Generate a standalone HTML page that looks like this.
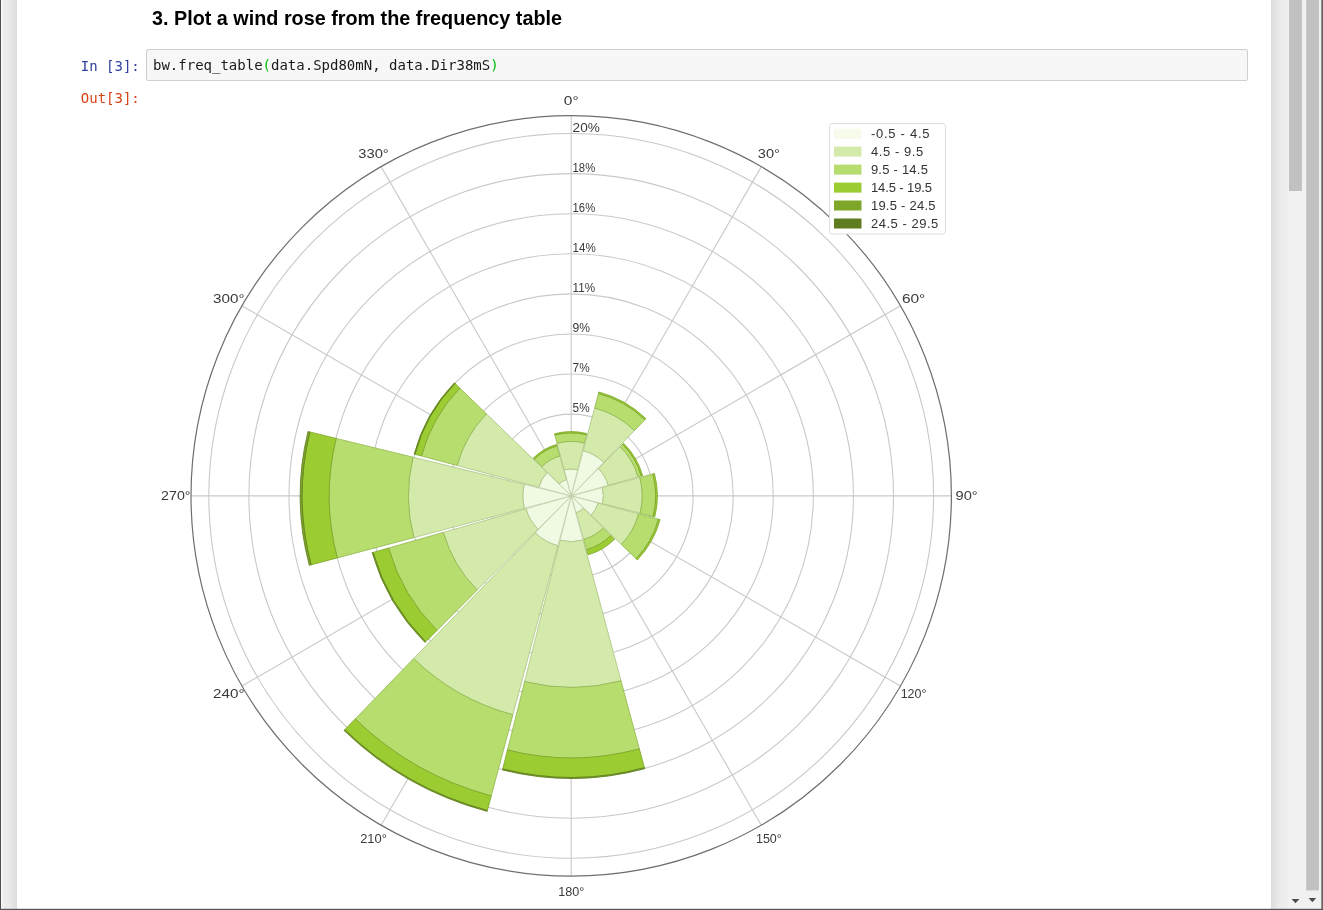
<!DOCTYPE html>
<html lang="en">
<head>
<meta charset="utf-8">
<title>Wind rose notebook</title>
<style>
html, body { margin: 0; padding: 0; }
body {
  width: 1323px; height: 910px; overflow: hidden; position: relative;
  background: #eeeeee;
  font-family: "Liberation Sans", Arial, sans-serif;
}
.leftedge { position: absolute; left: 0; top: 0; width: 1.3px; height: 910px; background: #5a5a5a; }
.leftwhite { position: absolute; left: 1.3px; top: 0; width: 1.2px; height: 910px; background: #fff; }
.page {
  position: absolute; left: 17px; top: -20px; width: 1254px; height: 960px;
  background: #fff; box-shadow: 0 0 12px 1px rgba(87,87,87,0.2);
}
h3 {
  position: absolute; left: 152px; top: 6px; margin: 0;
  font-size: 19.8px; font-weight: bold; color: #000; line-height: 24px; white-space: nowrap;
}
.prompt {
  position: absolute; width: 100px; text-align: right;
  font-family: "DejaVu Sans Mono", "Liberation Mono", monospace; font-size: 14px; line-height: 17px; white-space: pre;
}
.in { left: 39.8px; top: 57.5px; color: #303f9f; }
.out { left: 39.8px; top: 89.5px; color: #d84315; }
.input {
  position: absolute; left: 146px; top: 49.4px; width: 1100px; height: 30px;
  border: 1px solid #cfcfcf; border-radius: 2px; background: #f7f7f7;
}
.input code {
  position: absolute; left: 6px; top: 7.1px;
  font-family: "DejaVu Sans Mono", "Liberation Mono", monospace; font-size: 14px; line-height: 17px; color: #1a1a1a; white-space: pre;
}
.input code b { font-weight: normal; color: #0b0; }
svg.chart { position: absolute; left: 150px; top: 85px; }
svg.chrome { position: absolute; left: 0; top: 0; }
svg .tick { font-family: "Liberation Sans", Arial, sans-serif; }
.sb1 { position: absolute; left: 1288px; top: 0; width: 17px; height: 908.5px; background: #f1f1f1; }
.sb1 .thumb { position: absolute; left: 1px; top: 0; width: 12.9px; height: 191px; background: #c1c1c1; }
.sb2 { position: absolute; left: 1305px; top: 0; width: 16.3px; height: 908.5px; background: #f1f1f1; }
.sb2 .thumb { position: absolute; left: 1.2px; top: 0; width: 12.7px; height: 890.5px; background: #c1c1c1; }
.arrow { position: absolute; width: 0; height: 0; border-left: 4px solid transparent; border-right: 4px solid transparent; border-top: 4.5px solid #505050; }
.rightedge { position: absolute; left: 1321.3px; top: 0; width: 1.7px; height: 910px; background: #6a6a6a; }
.bottomedge { position: absolute; left: 0; top: 908.6px; width: 1323px; height: 1.4px; background: #5a5a5a; }
</style>
</head>
<body>
<div class="page"></div>
<h3>3. Plot a wind rose from the frequency table</h3>
<div class="prompt in">In [3]:</div>
<div class="input"><code>bw.freq_table<b>(</b>data.Spd80mN, data.Dir38mS<b>)</b></code></div>
<div class="prompt out">Out[3]:</div>
<svg class="chart" width="1100" height="830" viewBox="150 85 1100 830">
<g fill="none" stroke="#c9c9c9" stroke-width="1.1">
<circle cx="571.2" cy="495.9" r="41.73"/>
<circle cx="571.2" cy="495.9" r="81.81"/>
<circle cx="571.2" cy="495.9" r="121.89"/>
<circle cx="571.2" cy="495.9" r="161.97"/>
<circle cx="571.2" cy="495.9" r="202.05"/>
<circle cx="571.2" cy="495.9" r="242.13"/>
<circle cx="571.2" cy="495.9" r="282.21"/>
<circle cx="571.2" cy="495.9" r="322.29"/>
<circle cx="571.2" cy="495.9" r="362.37"/>
<line x1="571.2" y1="495.9" x2="571.20" y2="115.70"/>
<line x1="571.2" y1="495.9" x2="761.30" y2="166.64"/>
<line x1="571.2" y1="495.9" x2="900.46" y2="305.80"/>
<line x1="571.2" y1="495.9" x2="951.40" y2="495.90"/>
<line x1="571.2" y1="495.9" x2="900.46" y2="686.00"/>
<line x1="571.2" y1="495.9" x2="761.30" y2="825.16"/>
<line x1="571.2" y1="495.9" x2="571.20" y2="876.10"/>
<line x1="571.2" y1="495.9" x2="381.10" y2="825.16"/>
<line x1="571.2" y1="495.9" x2="241.94" y2="686.00"/>
<line x1="571.2" y1="495.9" x2="191.00" y2="495.90"/>
<line x1="571.2" y1="495.9" x2="241.94" y2="305.80"/>
<line x1="571.2" y1="495.9" x2="381.10" y2="166.64"/>
</g>
<circle cx="571.2" cy="495.9" r="380.2" fill="none" stroke="#6e6e6e" stroke-width="1.2"/>
<g class="tick" font-size="12.5" fill="#3a3a3a">
<text x="572.6" y="412.4" textLength="17.0" lengthAdjust="spacingAndGlyphs">5%</text>
<text x="572.6" y="372.3" textLength="17.0" lengthAdjust="spacingAndGlyphs">7%</text>
<text x="572.6" y="332.2" textLength="17.5" lengthAdjust="spacingAndGlyphs">9%</text>
<text x="572.6" y="292.2" textLength="22.5" lengthAdjust="spacingAndGlyphs">11%</text>
<text x="572.6" y="252.1" textLength="23.2" lengthAdjust="spacingAndGlyphs">14%</text>
<text x="572.6" y="212.0" textLength="22.6" lengthAdjust="spacingAndGlyphs">16%</text>
<text x="572.6" y="171.9" textLength="22.6" lengthAdjust="spacingAndGlyphs">18%</text>
<text x="572.6" y="131.8" textLength="27.2" lengthAdjust="spacingAndGlyphs">20%</text>
</g>
<g class="tick" font-size="12.6" fill="#3a3a3a" text-anchor="middle">
<text x="571.2" y="104.8" textLength="14.8" lengthAdjust="spacingAndGlyphs">0°</text>
<text x="768.9" y="157.8" textLength="22.1" lengthAdjust="spacingAndGlyphs">30°</text>
<text x="913.6" y="302.5" textLength="23.4" lengthAdjust="spacingAndGlyphs">60°</text>
<text x="966.6" y="500.2" textLength="22.1" lengthAdjust="spacingAndGlyphs">90°</text>
<text x="913.6" y="697.9" textLength="25.8" lengthAdjust="spacingAndGlyphs">120°</text>
<text x="768.9" y="842.6" textLength="25.9" lengthAdjust="spacingAndGlyphs">150°</text>
<text x="571.2" y="895.6" textLength="26.1" lengthAdjust="spacingAndGlyphs">180°</text>
<text x="373.5" y="842.6" textLength="26.7" lengthAdjust="spacingAndGlyphs">210°</text>
<text x="228.8" y="697.9" textLength="31.5" lengthAdjust="spacingAndGlyphs">240°</text>
<text x="175.8" y="500.2" textLength="29.4" lengthAdjust="spacingAndGlyphs">270°</text>
<text x="228.8" y="302.5" textLength="31.5" lengthAdjust="spacingAndGlyphs">300°</text>
<text x="373.5" y="157.8" textLength="30.5" lengthAdjust="spacingAndGlyphs">330°</text>
</g>
<g stroke-width="0.8" stroke-linejoin="round">
<path d="M571.20 495.90L564.18 469.83A27.00 27.00 0 0 1 577.77 469.71Z" fill="#f0f9e1" stroke="#bfcdaa"/>
<path d="M564.18 469.83L557.02 443.28A54.50 54.50 0 0 1 584.46 443.04L577.77 469.71A27.00 27.00 0 0 0 564.18 469.83Z" fill="#d4eaaa" stroke="#a9c381"/>
<path d="M557.02 443.28L554.81 435.07A63.00 63.00 0 0 1 586.53 434.79L584.46 443.04A54.50 54.50 0 0 0 557.02 443.28Z" fill="#b6dd6e" stroke="#90b64c"/>
<path d="M554.81 435.07L554.47 433.81A64.30 64.30 0 0 1 586.84 433.53L586.53 434.79A63.00 63.00 0 0 0 554.81 435.07Z" fill="#9bcc32" stroke="#7ba526"/>
<path d="M571.20 495.90L583.25 450.68A46.80 46.80 0 0 1 603.76 462.28Z" fill="#f0f9e1" stroke="#bfcdaa"/>
<path d="M583.25 450.68L594.63 407.97A91.00 91.00 0 0 1 634.51 430.53L603.76 462.28A46.80 46.80 0 0 0 583.25 450.68Z" fill="#d4eaaa" stroke="#a9c381"/>
<path d="M594.63 407.97L598.49 393.47A106.00 106.00 0 0 1 644.94 419.75L634.51 430.53A91.00 91.00 0 0 0 594.63 407.97Z" fill="#b6dd6e" stroke="#90b64c"/>
<path d="M598.49 393.47L598.88 392.02A107.50 107.50 0 0 1 645.98 418.68L644.94 419.75A106.00 106.00 0 0 0 598.49 393.47Z" fill="#9bcc32" stroke="#7ba526"/>
<path d="M571.20 495.90L598.39 468.64A38.50 38.50 0 0 1 608.22 485.34Z" fill="#f0f9e1" stroke="#bfcdaa"/>
<path d="M598.39 468.64L620.28 446.69A69.50 69.50 0 0 1 638.03 476.84L608.22 485.34A38.50 38.50 0 0 0 598.39 468.64Z" fill="#d4eaaa" stroke="#a9c381"/>
<path d="M620.28 446.69L622.61 444.35A72.80 72.80 0 0 1 641.21 475.93L638.03 476.84A69.50 69.50 0 0 0 620.28 446.69Z" fill="#b6dd6e" stroke="#90b64c"/>
<path d="M622.61 444.35L623.66 443.29A74.30 74.30 0 0 1 642.65 475.52L641.21 475.93A72.80 72.80 0 0 0 622.61 444.35Z" fill="#9bcc32" stroke="#7ba526"/>
<path d="M571.20 495.90L602.29 487.52A32.20 32.20 0 0 1 602.43 503.73Z" fill="#f0f9e1" stroke="#bfcdaa"/>
<path d="M602.29 487.52L639.76 477.43A71.00 71.00 0 0 1 640.07 513.17L602.43 503.73A32.20 32.20 0 0 0 602.29 487.52Z" fill="#d4eaaa" stroke="#a9c381"/>
<path d="M639.76 477.43L652.79 473.92A84.50 84.50 0 0 1 653.16 516.46L640.07 513.17A71.00 71.00 0 0 0 639.76 477.43Z" fill="#b6dd6e" stroke="#90b64c"/>
<path d="M652.79 473.92L654.43 473.47A86.20 86.20 0 0 1 654.81 516.87L653.16 516.46A84.50 84.50 0 0 0 652.79 473.92Z" fill="#9bcc32" stroke="#7ba526"/>
<path d="M571.20 495.90L598.06 503.06A27.80 27.80 0 0 1 591.17 515.24Z" fill="#f0f9e1" stroke="#bfcdaa"/>
<path d="M598.06 503.06L638.65 513.87A69.80 69.80 0 0 1 621.34 544.46L591.17 515.24A27.80 27.80 0 0 0 598.06 503.06Z" fill="#d4eaaa" stroke="#a9c381"/>
<path d="M638.65 513.87L658.46 519.15A90.30 90.30 0 0 1 636.07 558.72L621.34 544.46A69.80 69.80 0 0 0 638.65 513.87Z" fill="#b6dd6e" stroke="#90b64c"/>
<path d="M658.46 519.15L660.10 519.59A92.00 92.00 0 0 1 637.29 559.90L636.07 558.72A90.30 90.30 0 0 0 658.46 519.15Z" fill="#9bcc32" stroke="#7ba526"/>
<path d="M571.20 495.90L583.59 508.26A17.50 17.50 0 0 1 576.00 512.73Z" fill="#f0f9e1" stroke="#bfcdaa"/>
<path d="M583.59 508.26L603.28 527.89A45.30 45.30 0 0 1 583.63 539.46L576.00 512.73A17.50 17.50 0 0 0 583.59 508.26Z" fill="#d4eaaa" stroke="#a9c381"/>
<path d="M603.28 527.89L610.85 535.44A56.00 56.00 0 0 1 586.56 549.75L583.63 539.46A45.30 45.30 0 0 0 603.28 527.89Z" fill="#b6dd6e" stroke="#90b64c"/>
<path d="M610.85 535.44L614.61 539.19A61.30 61.30 0 0 1 588.01 554.85L586.56 549.75A56.00 56.00 0 0 0 610.85 535.44Z" fill="#9bcc32" stroke="#7ba526"/>
<path d="M571.20 495.90L583.12 540.12A45.80 45.80 0 0 1 560.06 540.32Z" fill="#f0f9e1" stroke="#bfcdaa"/>
<path d="M583.12 540.12L621.02 680.81A191.50 191.50 0 0 1 524.61 681.65L560.06 540.32A45.80 45.80 0 0 0 583.12 540.12Z" fill="#d4eaaa" stroke="#a9c381"/>
<path d="M621.02 680.81L639.36 748.88A262.00 262.00 0 0 1 507.46 750.03L524.61 681.65A191.50 191.50 0 0 0 621.02 680.81Z" fill="#b6dd6e" stroke="#90b64c"/>
<path d="M639.36 748.88L644.44 767.71A281.50 281.50 0 0 1 502.72 768.94L507.46 750.03A262.00 262.00 0 0 0 639.36 748.88Z" fill="#9bcc32" stroke="#7ba526"/>
<path d="M644.44 767.71L644.70 768.67A282.50 282.50 0 0 1 502.47 769.91L502.72 768.94A281.50 281.50 0 0 0 644.44 767.71Z" fill="#7ea628" stroke="#5f7d1e"/>
<path d="M571.20 495.90L557.91 545.76A51.60 51.60 0 0 1 535.30 532.97Z" fill="#f0f9e1" stroke="#bfcdaa"/>
<path d="M557.91 545.76L512.88 714.76A226.50 226.50 0 0 1 413.63 658.61L535.30 532.97A51.60 51.60 0 0 0 557.91 545.76Z" fill="#d4eaaa" stroke="#a9c381"/>
<path d="M512.88 714.76L491.26 795.93A310.50 310.50 0 0 1 355.20 718.95L413.63 658.61A226.50 226.50 0 0 0 512.88 714.76Z" fill="#b6dd6e" stroke="#90b64c"/>
<path d="M491.26 795.93L487.39 810.43A325.50 325.50 0 0 1 344.76 729.73L355.20 718.95A310.50 310.50 0 0 0 491.26 795.93Z" fill="#9bcc32" stroke="#7ba526"/>
<path d="M487.39 810.43L487.14 811.39A326.50 326.50 0 0 1 344.07 730.45L344.76 729.73A325.50 325.50 0 0 0 487.39 810.43Z" fill="#7ea628" stroke="#5f7d1e"/>
<path d="M571.20 495.90L538.01 529.18A47.00 47.00 0 0 1 526.00 508.79Z" fill="#f0f9e1" stroke="#bfcdaa"/>
<path d="M538.01 529.18L477.29 590.08A133.00 133.00 0 0 1 443.30 532.38L526.00 508.79A47.00 47.00 0 0 0 538.01 529.18Z" fill="#d4eaaa" stroke="#a9c381"/>
<path d="M477.29 590.08L437.04 630.44A190.00 190.00 0 0 1 388.49 548.02L443.30 532.38A133.00 133.00 0 0 0 477.29 590.08Z" fill="#b6dd6e" stroke="#90b64c"/>
<path d="M437.04 630.44L425.74 641.77A206.00 206.00 0 0 1 373.10 552.40L388.49 548.02A190.00 190.00 0 0 0 437.04 630.44Z" fill="#9bcc32" stroke="#7ba526"/>
<path d="M425.74 641.77L425.03 642.48A207.00 207.00 0 0 1 372.14 552.68L373.10 552.40A206.00 206.00 0 0 0 425.74 641.77Z" fill="#7ea628" stroke="#5f7d1e"/>
<path d="M571.20 495.90L524.42 508.30A48.40 48.40 0 0 1 524.19 484.40Z" fill="#f0f9e1" stroke="#bfcdaa"/>
<path d="M524.42 508.30L413.84 537.62A162.80 162.80 0 0 1 413.07 457.20L524.19 484.40A48.40 48.40 0 0 0 524.42 508.30Z" fill="#d4eaaa" stroke="#a9c381"/>
<path d="M413.84 537.62L337.28 557.92A242.00 242.00 0 0 1 336.14 438.38L413.07 457.20A162.80 162.80 0 0 0 413.84 537.62Z" fill="#b6dd6e" stroke="#90b64c"/>
<path d="M337.28 557.92L311.18 564.84A269.00 269.00 0 0 1 309.91 431.96L336.14 438.38A242.00 242.00 0 0 0 337.28 557.92Z" fill="#9bcc32" stroke="#7ba526"/>
<path d="M311.18 564.84L309.25 565.35A271.00 271.00 0 0 1 307.97 431.49L309.91 431.96A269.00 269.00 0 0 0 311.18 564.84Z" fill="#7ea628" stroke="#5f7d1e"/>
<path d="M571.20 495.90L538.83 487.27A33.50 33.50 0 0 1 547.13 472.60Z" fill="#f0f9e1" stroke="#bfcdaa"/>
<path d="M538.83 487.27L457.18 465.52A118.00 118.00 0 0 1 486.43 413.81L547.13 472.60A33.50 33.50 0 0 0 538.83 487.27Z" fill="#d4eaaa" stroke="#a9c381"/>
<path d="M457.18 465.52L421.43 455.99A155.00 155.00 0 0 1 459.85 388.07L486.43 413.81A118.00 118.00 0 0 0 457.18 465.52Z" fill="#b6dd6e" stroke="#90b64c"/>
<path d="M421.43 455.99L414.95 454.27A161.70 161.70 0 0 1 455.04 383.41L459.85 388.07A155.00 155.00 0 0 0 421.43 455.99Z" fill="#9bcc32" stroke="#7ba526"/>
<path d="M414.95 454.27L414.18 454.06A162.50 162.50 0 0 1 454.47 382.85L455.04 383.41A161.70 161.70 0 0 0 414.95 454.27Z" fill="#7ea628" stroke="#5f7d1e"/>
<path d="M571.20 495.90L559.16 483.90A17.00 17.00 0 0 1 566.54 479.55Z" fill="#f0f9e1" stroke="#bfcdaa"/>
<path d="M559.16 483.90L541.81 466.60A41.50 41.50 0 0 1 559.82 455.99L566.54 479.55A17.00 17.00 0 0 0 559.16 483.90Z" fill="#d4eaaa" stroke="#a9c381"/>
<path d="M541.81 466.60L534.38 459.18A52.00 52.00 0 0 1 556.94 445.89L559.82 455.99A41.50 41.50 0 0 0 541.81 466.60Z" fill="#b6dd6e" stroke="#90b64c"/>
<path d="M534.38 459.18L533.32 458.12A53.50 53.50 0 0 1 556.53 444.45L556.94 445.89A52.00 52.00 0 0 0 534.38 459.18Z" fill="#9bcc32" stroke="#7ba526"/>
</g>
<rect x="829.5" y="123.5" width="116" height="110.5" rx="3" fill="#fff" stroke="#dedede" stroke-width="1"/>
<g class="tick" font-size="13" fill="#333">
<rect x="834" y="128.8" width="27.5" height="10" fill="#f6fbec"/>
<text x="870.9" y="138.4" textLength="58.7" lengthAdjust="spacing">-0.5 - 4.5</text>
<rect x="834" y="146.6" width="27.5" height="10" fill="#d4eaaa"/>
<text x="870.9" y="156.2" textLength="52.4" lengthAdjust="spacing">4.5 - 9.5</text>
<rect x="834" y="164.6" width="27.5" height="10" fill="#b6dd6e"/>
<text x="870.9" y="174.2" textLength="57.0" lengthAdjust="spacing">9.5 - 14.5</text>
<rect x="834" y="182.6" width="27.5" height="10" fill="#9bcc32"/>
<text x="870.9" y="192.2" textLength="61.2" lengthAdjust="spacing">14.5 - 19.5</text>
<rect x="834" y="200.5" width="27.5" height="10" fill="#7ea628"/>
<text x="870.9" y="210.1" textLength="64.7" lengthAdjust="spacing">19.5 - 24.5</text>
<rect x="834" y="218.5" width="27.5" height="10" fill="#5f7d1e"/>
<text x="870.9" y="228.1" textLength="67.4" lengthAdjust="spacing">24.5 - 29.5</text>
</g>
</svg>
<svg class="chrome" width="1323" height="910" viewBox="0 0 1323 910">
<rect x="0" y="0" width="1.2" height="910" fill="#505050"/>
<rect x="1.2" y="0" width="1.1" height="910" fill="#ffffff"/>
<rect x="1288" y="0" width="33.3" height="910" fill="#f1f1f1"/>
<rect x="1289" y="0" width="12.9" height="191" fill="#c1c1c1"/>
<rect x="1306.2" y="0" width="12.7" height="890.4" fill="#c1c1c1"/>
<path d="M1291.6 899 L1299.4 899 L1295.5 903.2 Z" fill="#4d4d4d"/>
<path d="M1308.6 898 L1316.2 898 L1312.4 902.2 Z" fill="#4d4d4d"/>
<rect x="1321.3" y="0" width="1.7" height="910" fill="#666666"/>
<rect x="0" y="908.8" width="1323" height="1.2" fill="#555555"/>
</svg>
</body>
</html>
